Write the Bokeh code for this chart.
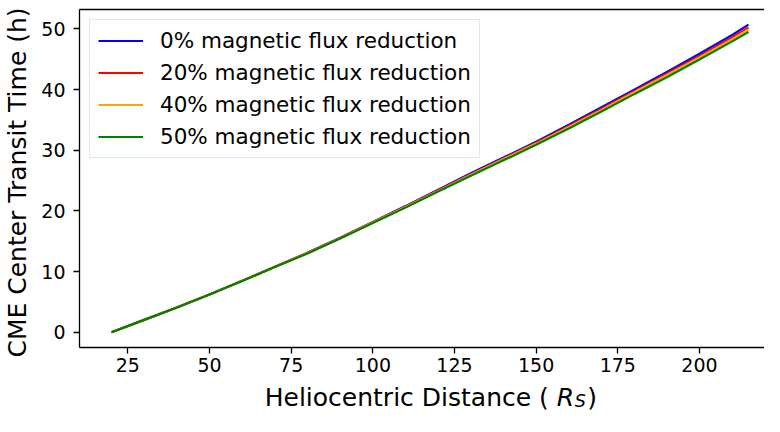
from bokeh.plotting import figure
from bokeh.layouts import column
from bokeh.models import Legend, LegendItem, FixedTicker, Range1d, LinearAxis
from bokeh.core.properties import value
from bokeh.embed import file_html
from bokeh.resources import INLINE

distance = [20, 30, 40, 50, 60, 70, 80, 90, 100, 110, 120, 130, 140, 150, 160, 170, 180, 190, 200, 210, 215]
flux_0 = [0, 2.05, 4.1, 6.25, 8.5, 10.8, 13.1, 15.6, 18.2, 20.8, 23.5, 26.2, 28.8, 31.4, 34.2, 37.1, 40.0, 42.9, 45.9, 49.0, 50.7]
flux_20 = [0, 2.05, 4.1, 6.25, 8.5, 10.8, 13.1, 15.55, 18.15, 20.7, 23.4, 26.05, 28.65, 31.25, 34.0, 36.85, 39.75, 42.6, 45.55, 48.6, 50.25]
flux_40 = [0, 2.05, 4.1, 6.25, 8.5, 10.8, 13.05, 15.5, 18.1, 20.65, 23.3, 25.95, 28.55, 31.1, 33.85, 36.65, 39.55, 42.4, 45.3, 48.3, 49.9]
flux_50 = [0, 2.05, 4.1, 6.25, 8.45, 10.75, 13.0, 15.45, 18.0, 20.55, 23.2, 25.8, 28.35, 30.9, 33.6, 36.4, 39.25, 42.05, 44.95, 47.95, 49.5]
series_labels = ["0% magnetic flux reduction", "20% magnetic flux reduction",
                 "40% magnetic flux reduction", "50% magnetic flux reduction"]
series_colors = ["blue", "red", "orange", "green"]
x_ticks = [25, 50, 75, 100, 125, 150, 175, 200]
y_ticks = [0, 10, 20, 30, 40, 50]
y_title = "CME Center Transit Time  (h)"
x_title_parts = ["Heliocentric Distance  (", "R", "S", ")"]

FONT = "DejaVu Sans"
TXT = "black"

p = figure(width=764, height=379, output_backend="svg", toolbar_location=None,
           x_range=Range1d(10.2, 219.9), y_range=Range1d(-2.5, 53.2),
           min_border_left=75, min_border_right=0, min_border_top=9, min_border_bottom=32)
p.background_fill_color = "white"
p.border_fill_color = "white"
p.grid.visible = False
p.outline_line_color = None

items = []
for ys, lab, col in zip([flux_0, flux_20, flux_40, flux_50], series_labels, series_colors):
    r = p.line(distance, ys, line_color=col, line_width=2.2)
    items.append(LegendItem(label=lab, renderers=[r]))

leg = Legend(items=items, location="top_left")
leg.label_text_font = FONT
leg.label_text_font_size = "21.5px"
leg.label_text_color = TXT
leg.glyph_width = 45
leg.glyph_height = 25
leg.label_height = 25
leg.label_standoff = 17
leg.spacing = 7
leg.padding = 8
leg.margin = 10
leg.border_line_color = "#cccccc"
leg.border_line_width = 1
leg.background_fill_alpha = 0.8
p.add_layout(leg)

for ax in (p.xaxis, p.yaxis):
    ax.major_label_text_font = FONT
    ax.major_label_text_font_size = "19px"
    ax.major_label_text_color = TXT
    ax.axis_label_text_font = FONT
    ax.axis_label_text_font_size = "25px"
    ax.axis_label_text_font_style = "normal"
    ax.axis_label_text_color = TXT
    ax.minor_tick_line_color = None
    ax.major_tick_out = 6
    ax.major_tick_in = 0
    ax.major_tick_line_width = 1.3
    ax.axis_line_width = 1.3
    ax.axis_line_color = "black"
    ax.major_tick_line_color = "black"

p.xaxis.ticker = FixedTicker(ticks=x_ticks)
p.yaxis.ticker = FixedTicker(ticks=y_ticks)
p.yaxis.axis_label = y_title
p.xaxis.major_label_standoff = 4
p.yaxis.major_label_standoff = 8
p.yaxis.axis_label_standoff = 6

# top spine
top = LinearAxis(ticker=FixedTicker(ticks=[]), major_tick_line_color=None,
                 minor_tick_line_color=None, major_label_text_font_size="0px",
                 axis_line_color="black", axis_line_width=1.3, major_label_standoff=0,
                 major_tick_out=0)
p.add_layout(top, "above")

# strip below for the x axis title: "Heliocentric Distance  (" + italic R + subscript S + ")"
p2 = figure(width=764, height=36, output_backend="svg", toolbar_location=None,
            x_range=p.x_range, y_range=Range1d(0, 1),
            x_axis_type=None, y_axis_type=None,
            min_border_left=75, min_border_right=0, min_border_top=0, min_border_bottom=0)
p2.grid.visible = False
p2.outline_line_color = None
p2.background_fill_color = "white"
p2.border_fill_color = "white"

base = 0.5
p2.text(x=[156.3], y=[base], text=[x_title_parts[0]], text_font=value(FONT),
        text_font_size="25px", text_color=TXT, text_baseline="alphabetic", text_align="right")
p2.text(x=[156.3], y=[base], text=[x_title_parts[1]], text_font=value(FONT),
        text_font_style="italic", text_font_size="25px", text_color=TXT,
        text_baseline="alphabetic", text_align="left")
p2.text(x=[161.8], y=[base - 0.09], text=[x_title_parts[2]], text_font=value(FONT),
        text_font_style="italic", text_font_size="17.5px", text_color=TXT,
        text_baseline="alphabetic", text_align="left")
p2.text(x=[165.6], y=[base], text=[x_title_parts[3]], text_font=value(FONT),
        text_font_size="25px", text_color=TXT, text_baseline="alphabetic", text_align="left")

layout = column(p, p2, spacing=0)
open("out.html", "w").write(file_html(layout, INLINE))
